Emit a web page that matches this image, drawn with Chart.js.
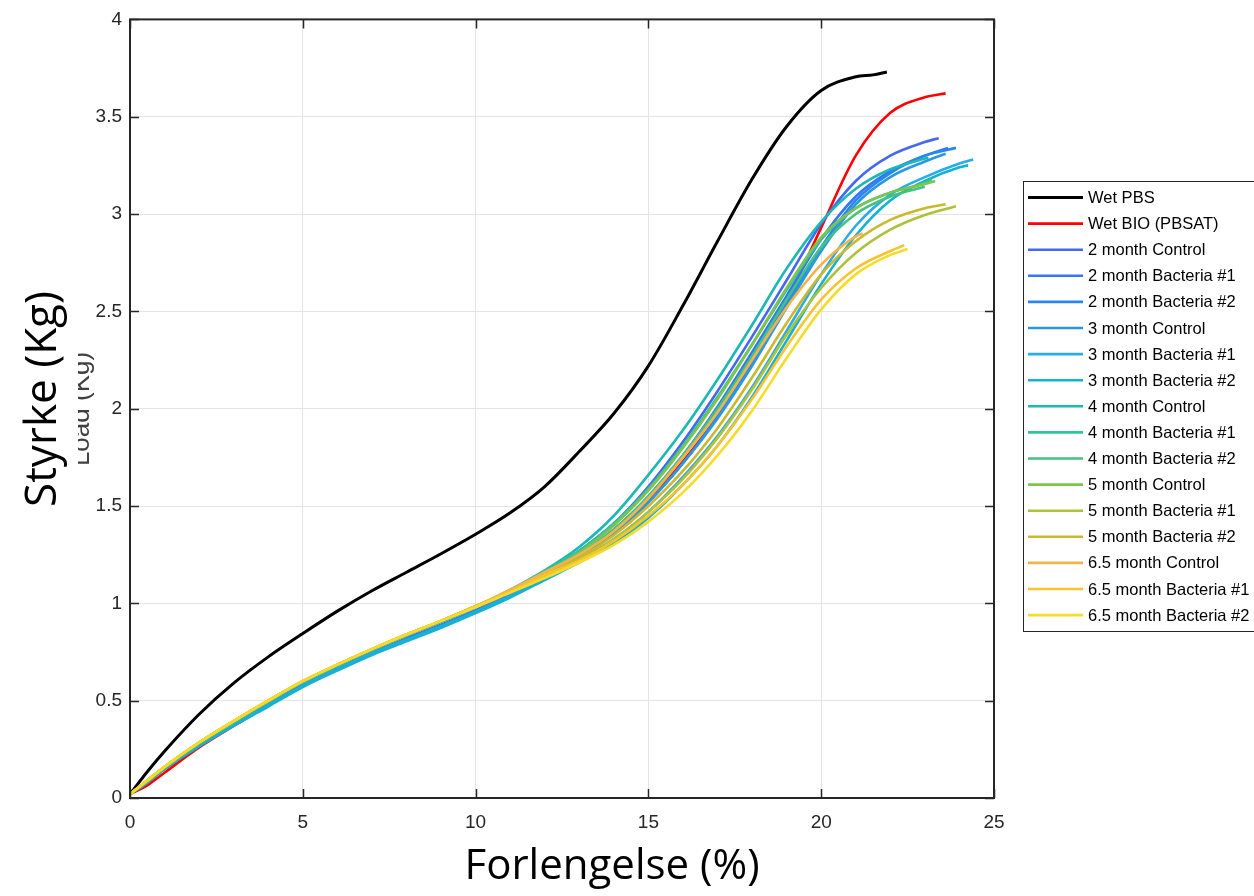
<!DOCTYPE html>
<html>
<head>
<meta charset="utf-8">
<script src="https://cdn.jsdelivr.net/npm/chart.js@4.4.0/dist/chart.umd.min.js"></script>
<style>
html,body{margin:0;padding:0;background:#fff;}
#wrap{width:1254px;height:896px;position:relative;}
</style>
</head>
<body>
<div id="wrap"><canvas id="c" width="1254" height="896"></canvas></div>
<script>
// ---- DATA ----
const xGrid = [0, 0.5, 1, 2, 3, 4, 5, 6, 7, 8, 9, 10, 11, 12, 13, 14, 15, 16, 17, 18, 19, 20, 21, 22, 23, 24];

const seriesLabels = [
  'Wet PBS', 'Wet BIO (PBSAT)',
  '2 month Control', '2 month Bacteria #1', '2 month Bacteria #2',
  '3 month Control', '3 month Bacteria #1', '3 month Bacteria #2',
  '4 month Control', '4 month Bacteria #1', '4 month Bacteria #2',
  '5 month Control', '5 month Bacteria #1', '5 month Bacteria #2',
  '6.5 month Control', '6.5 month Bacteria #1', '6.5 month Bacteria #2'
];

const yWetPBS   = [0.02,0.135,0.24,0.43,0.59,0.725,0.845,0.96,1.065,1.16,1.255,1.355,1.465,1.60,1.78,1.975,2.22,2.53,2.86,3.18,3.45,3.635,3.705];
const endWetPBS = [[21.5,3.715],[21.9,3.73]];

const yWetBIO   = [0.02,0.065,0.13,0.26,0.37,0.475,0.575,0.66,0.74,0.81,0.88,0.955,1.035,1.13,1.23,1.36,1.53,1.73,1.96,2.23,2.55,2.93,3.30,3.52,3.60];
const endWetBIO = [[23.6,3.62]];

const y2mCtrl   = [0.02,0.08,0.15,0.27,0.38,0.48,0.58,0.665,0.745,0.82,0.89,0.965,1.055,1.16,1.27,1.41,1.60,1.83,2.09,2.37,2.66,2.95,3.17,3.30,3.37];
const end2mCtrl = [[23.4,3.39]];
const y2mB1     = [0.02,0.08,0.15,0.27,0.38,0.48,0.58,0.665,0.745,0.815,0.885,0.96,1.045,1.145,1.25,1.38,1.55,1.76,2.01,2.29,2.58,2.87,3.09,3.22,3.30];
const end2mB1   = [[23.67,3.34]];
const y2mB2     = [0.02,0.08,0.15,0.27,0.38,0.48,0.58,0.665,0.745,0.815,0.885,0.96,1.045,1.14,1.24,1.36,1.52,1.72,1.96,2.24,2.54,2.83,3.07,3.21,3.30];
const end2mB2   = [[23.9,3.34]];

const y3mCtrl   = [0.02,0.08,0.15,0.27,0.38,0.48,0.58,0.665,0.745,0.815,0.885,0.96,1.045,1.14,1.24,1.36,1.52,1.72,1.95,2.22,2.52,2.81,3.05,3.19,3.27];
const end3mCtrl = [[23.6,3.31]];
const y3mB1     = [0.02,0.08,0.15,0.27,0.375,0.475,0.575,0.66,0.74,0.81,0.88,0.955,1.035,1.125,1.22,1.33,1.47,1.65,1.86,2.11,2.40,2.69,2.94,3.10,3.19,3.26];
const end3mB1   = [[24.4,3.28]];
const y3mB2     = [0.02,0.08,0.15,0.265,0.37,0.47,0.57,0.655,0.735,0.805,0.875,0.95,1.03,1.12,1.21,1.31,1.44,1.61,1.81,2.06,2.35,2.64,2.89,3.07,3.17,3.24];
const end3mB2   = [[24.25,3.25]];

const y4mCtrl   = [0.02,0.085,0.155,0.28,0.39,0.495,0.595,0.68,0.76,0.835,0.905,0.98,1.07,1.17,1.29,1.45,1.66,1.89,2.15,2.43,2.72,2.96,3.13,3.23];
const end4mCtrl = [[23.1,3.29]];
const y4mB1     = [0.02,0.085,0.155,0.28,0.39,0.495,0.595,0.68,0.76,0.835,0.905,0.98,1.065,1.165,1.27,1.41,1.59,1.81,2.06,2.33,2.61,2.87,3.03,3.11,3.16];
const end4mB1   = [[23.2,3.18]];
const y4mB2     = [0.02,0.085,0.155,0.28,0.39,0.495,0.595,0.68,0.76,0.835,0.905,0.98,1.06,1.155,1.25,1.38,1.55,1.76,2.00,2.27,2.56,2.83,3.00,3.09];
const end4mB2   = [[23.0,3.14]];

const y5mCtrl   = [0.02,0.09,0.16,0.285,0.395,0.50,0.60,0.685,0.765,0.84,0.91,0.985,1.065,1.16,1.26,1.40,1.58,1.80,2.05,2.33,2.62,2.88,3.03,3.11,3.155];
const end5mCtrl = [[23.3,3.17]];
const y5mB1     = [0.02,0.09,0.16,0.285,0.395,0.50,0.60,0.685,0.765,0.84,0.91,0.985,1.06,1.145,1.225,1.33,1.47,1.64,1.85,2.10,2.38,2.62,2.80,2.92,2.995];
const end5mB1   = [[23.9,3.04]];
const y5mB2     = [0.02,0.09,0.16,0.285,0.395,0.50,0.60,0.685,0.765,0.84,0.91,0.985,1.065,1.15,1.235,1.35,1.50,1.68,1.90,2.16,2.44,2.69,2.86,2.97,3.03];
const end5mB2   = [[23.6,3.05]];

const y65mCtrl   = [0.02,0.09,0.16,0.285,0.395,0.50,0.60,0.685,0.765,0.84,0.91,0.985,1.07,1.16,1.25,1.37,1.54,1.75,1.98,2.25,2.52,2.74];
const end65mCtrl = [[21.0,2.885],[21.2,2.90]];
const y65mB1     = [0.02,0.09,0.16,0.285,0.395,0.50,0.60,0.685,0.765,0.84,0.91,0.985,1.06,1.145,1.22,1.32,1.45,1.61,1.81,2.05,2.32,2.56,2.72,2.81];
const end65mB1   = [[22.4,2.84]];
const y65mB2     = [0.02,0.09,0.16,0.285,0.395,0.50,0.60,0.685,0.765,0.84,0.91,0.98,1.055,1.13,1.21,1.30,1.42,1.57,1.76,1.99,2.26,2.51,2.69,2.79];
const end65mB2   = [[22.5,2.82]];

const xTicks = [0, 5, 10, 15, 20, 25];
const yTicks = [0, 0.5, 1, 1.5, 2, 2.5, 3, 3.5, 4];

// ---- STYLES ----
const seriesColors = [
  '#000000', '#FF0000',
  '#4468F0', '#3378F2', '#2886EE',
  '#2A98E0', '#28ACEA', '#12B2D2',
  '#1CB8B4', '#30C49C', '#44C282',
  '#7CC44C', '#ADC23A', '#CBB82C',
  '#F6B24A', '#F8C32E', '#F6DC28'
];

const seriesY = [yWetPBS, yWetBIO, y2mCtrl, y2mB1, y2mB2, y3mCtrl, y3mB1, y3mB2, y4mCtrl, y4mB1, y4mB2, y5mCtrl, y5mB1, y5mB2, y65mCtrl, y65mB1, y65mB2];
const seriesEnd = [endWetPBS, endWetBIO, end2mCtrl, end2mB1, end2mB2, end3mCtrl, end3mB1, end3mB2, end4mCtrl, end4mB1, end4mB2, end5mCtrl, end5mB1, end5mB2, end65mCtrl, end65mB1, end65mB2];

const datasets = seriesLabels.map((lab, i) => {
  const pts = seriesY[i].map((v, k) => ({x: xGrid[k], y: v}));
  seriesEnd[i].forEach(p => pts.push({x: p[0], y: p[1]}));
  return {
    label: lab,
    data: pts,
    borderColor: seriesColors[i],
    backgroundColor: seriesColors[i],
    borderWidth: i === 0 ? 3 : 2.6,
    pointRadius: 0,
    showLine: true,
    fill: false,
    cubicInterpolationMode: 'monotone',
    order: seriesLabels.length - i
  };
});

const TEXT = '#262626';

const decorPlugin = {
  id: 'decor',
  beforeDraw(chart) {
    const ctx = chart.ctx;
    ctx.save();
    ctx.fillStyle = '#ffffff';
    ctx.fillRect(0, 0, chart.width, chart.height);
    ctx.restore();
  },
  afterDraw(chart) {
    const ctx = chart.ctx;
    const a = chart.chartArea;
    const xs = chart.scales.x, ys = chart.scales.y;
    ctx.save();
    // inward tick marks on all four sides
    ctx.strokeStyle = TEXT;
    ctx.lineWidth = 1.5;
    ctx.beginPath();
    xTicks.forEach(v => {
      const px = Math.round(xs.getPixelForValue(v)) + 0.5;
      ctx.moveTo(px, a.bottom); ctx.lineTo(px, a.bottom - 9);
      ctx.moveTo(px, a.top); ctx.lineTo(px, a.top + 9);
    });
    yTicks.forEach(v => {
      const py = Math.round(ys.getPixelForValue(v)) + 0.5;
      ctx.moveTo(a.left, py); ctx.lineTo(a.left + 9, py);
      ctx.moveTo(a.right, py); ctx.lineTo(a.right - 9, py);
    });
    ctx.stroke();
    // box
    ctx.lineWidth = 2;
    ctx.strokeRect(a.left, a.top, a.right - a.left, a.bottom - a.top);

    // legend
    const lx = 1023.5, ly = 181.5, lw = 240, lh = 450;
    ctx.fillStyle = '#ffffff';
    ctx.fillRect(lx, ly, lw, lh);
    ctx.lineWidth = 1;
    ctx.strokeStyle = '#262626';
    ctx.strokeRect(lx, ly, lw, lh);
    ctx.font = '16.5px "Liberation Sans", Arial, sans-serif';
    ctx.textBaseline = 'middle';
    ctx.textAlign = 'left';
    chart.data.datasets.forEach((ds, i) => {
      const yy = 197.5 + i * 26.1;
      ctx.strokeStyle = ds.borderColor;
      ctx.lineWidth = i === 0 ? 3 : 2.6;
      ctx.beginPath();
      ctx.moveTo(1028, yy); ctx.lineTo(1083, yy);
      ctx.stroke();
      ctx.fillStyle = '#000000';
      ctx.fillText(ds.label, 1088, yy + 1);
    });

    // ghost axis label (partially covered)
    ctx.save();
    ctx.translate(89, 409);
    ctx.rotate(-Math.PI / 2);
    ctx.font = '26px "Liberation Sans", Arial, sans-serif';
    ctx.fillStyle = '#404040';
    ctx.textAlign = 'center';
    ctx.textBaseline = 'alphabetic';
    ctx.fillText('Load (Kg)', 0, 0);
    ctx.restore();
    ctx.fillStyle = '#ffffff';
    ctx.fillRect(0, 280, 78, 240);

    // y title
    ctx.save();
    ctx.translate(56, 399);
    ctx.rotate(-Math.PI / 2);
    ctx.font = '44px "Open Sans", "Noto Sans", sans-serif';
    ctx.fillStyle = '#000000';
    ctx.textAlign = 'center';
    ctx.textBaseline = 'alphabetic';
    ctx.fillText('Styrke (Kg)', 0, 0);
    ctx.restore();

    // x title
    ctx.font = '42px "Open Sans", "Noto Sans", sans-serif';
    ctx.fillStyle = '#000000';
    ctx.textAlign = 'center';
    ctx.textBaseline = 'alphabetic';
    ctx.fillText('Forlengelse (%)', 612, 879);
    ctx.restore();
  }
};

const tickFont = { family: '"Liberation Sans", Arial, sans-serif', size: 19 };

new Chart(document.getElementById('c'), {
  type: 'scatter',
  data: { datasets },
  options: {
    responsive: false,
    animation: false,
    layout: { padding: { left: 0, top: 14, right: 260, bottom: 0 } },
    plugins: { legend: { display: false }, tooltip: { enabled: false } },
    scales: {
      x: {
        type: 'linear', min: 0, max: 25,
        afterBuildTicks: s => { s.ticks = xTicks.map(v => ({ value: v })); },
        afterFit: s => { s.height = 98; },
        grid: { color: '#E4E4E4', lineWidth: 1, drawTicks: false },
        border: { display: false },
        ticks: { color: TEXT, padding: 13, maxRotation: 0, font: tickFont, callback: v => String(v) }
      },
      y: {
        type: 'linear', min: 0, max: 4,
        afterBuildTicks: s => { s.ticks = yTicks.map(v => ({ value: v })); },
        afterFit: s => { s.width = 130; },
        grid: { color: '#E4E4E4', lineWidth: 1, drawTicks: false },
        border: { display: false },
        ticks: { color: TEXT, padding: 8, font: tickFont, callback: v => String(v) }
      }
    }
  },
  plugins: [decorPlugin]
});
</script>
</body>
</html>
